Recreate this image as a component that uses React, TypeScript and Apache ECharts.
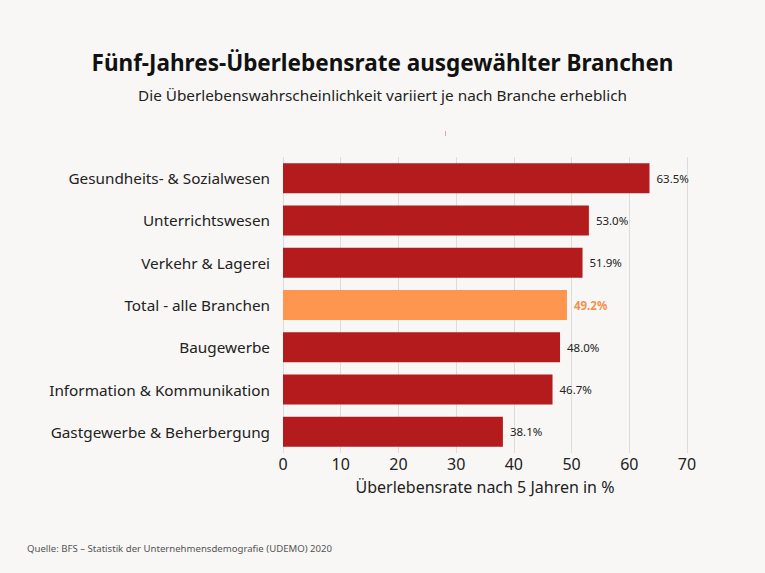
import React, { useEffect, useRef } from "react";
import * as echarts from "echarts";

const categories = [
  "Gesundheits- & Sozialwesen",
  "Unterrichtswesen",
  "Verkehr & Lagerei",
  "Total - alle Branchen",
  "Baugewerbe",
  "Information & Kommunikation",
  "Gastgewerbe & Beherbergung",
];
const values = [63.5, 53.0, 51.9, 49.2, 48.0, 46.7, 38.1];
const highlighted = ["Total - alle Branchen"];
const xTicks = [0, 10, 20, 30, 40, 50, 60, 70];

const TITLE = "Fünf-Jahres-Überlebensrate ausgewählter Branchen";
const SUBTITLE = "Die Überlebenswahrscheinlichkeit variiert je nach Branche erheblich";
const X_NAME = "Überlebensrate nach 5 Jahren in %";
const SOURCE = "Quelle: BFS – Statistik der Unternehmensdemografie (UDEMO) 2020";

const FONT = "'Noto Sans', 'Open Sans', sans-serif";
const RED = "#b31b1d";
const ORANGE = "#ff9650";

export default function App() {
  const ref = useRef<HTMLDivElement>(null);
  useEffect(() => {
    document.body.style.margin = "0";
    const chart = echarts.init(ref.current!, null, { renderer: "svg" });
    chart.setOption({
      animation: false,
      backgroundColor: "#f8f7f5",
      textStyle: { fontFamily: FONT },
      title: [
        {
          text: TITLE,
          left: "center",
          top: 46,
          textStyle: { fontSize: 22.5, fontWeight: "bold", color: "#111", fontFamily: FONT },
        },
        {
          text: SUBTITLE,
          left: "center",
          top: 82,
          textStyle: { fontSize: 15.3, fontWeight: "normal", color: "#222", fontFamily: FONT },
        },
      ],
      grid: { left: 283, right: 78, top: 157, bottom: 120, containLabel: false },
      xAxis: {
        type: "value",
        min: xTicks[0],
        max: xTicks[xTicks.length - 1],
        interval: 10,
        name: X_NAME,
        nameLocation: "middle",
        nameGap: 26,
        nameTextStyle: { fontSize: 16, color: "#222", fontFamily: FONT },
        axisLine: { show: false },
        axisTick: { show: false },
        axisLabel: { fontSize: 16, color: "#222", margin: 3, fontFamily: FONT },
        splitLine: { show: true, lineStyle: { color: "#dcdcdc", width: 1 } },
      },
      yAxis: {
        type: "category",
        data: categories,
        inverse: true,
        axisLine: { show: false },
        axisTick: { show: false },
        axisLabel: { fontSize: 15.3, color: "#222", margin: 13, fontFamily: FONT },
      },
      series: [
        {
          type: "bar",
          barWidth: 30,
          data: categories.map((c, i) => {
            const hi = highlighted.includes(c);
            return {
              value: values[i],
              itemStyle: { color: hi ? ORANGE : RED },
              label: hi
                ? { color: "#f0914f", fontWeight: "bold" }
                : { color: "#222", fontWeight: "normal" },
            };
          }),
          label: {
            show: true,
            position: "right",
            distance: 7,
            fontSize: 11.5,
            fontFamily: FONT,
            formatter: (p: any) => p.value.toFixed(1) + "%",
          },
        },
      ],
      graphic: [
        {
          type: "text",
          left: 27,
          top: 543,
          style: { text: SOURCE, fontSize: 9.6, fill: "#555", fontFamily: FONT },
        },
        {
          type: "line",
          shape: { x1: 445.5, y1: 131, x2: 445.5, y2: 136 },
          style: { stroke: "#e8a0a0", lineWidth: 1 },
        },
      ],
    });
    return () => chart.dispose();
  }, []);
  return <div ref={ref} style={{ width: 765, height: 573 }} />;
}
